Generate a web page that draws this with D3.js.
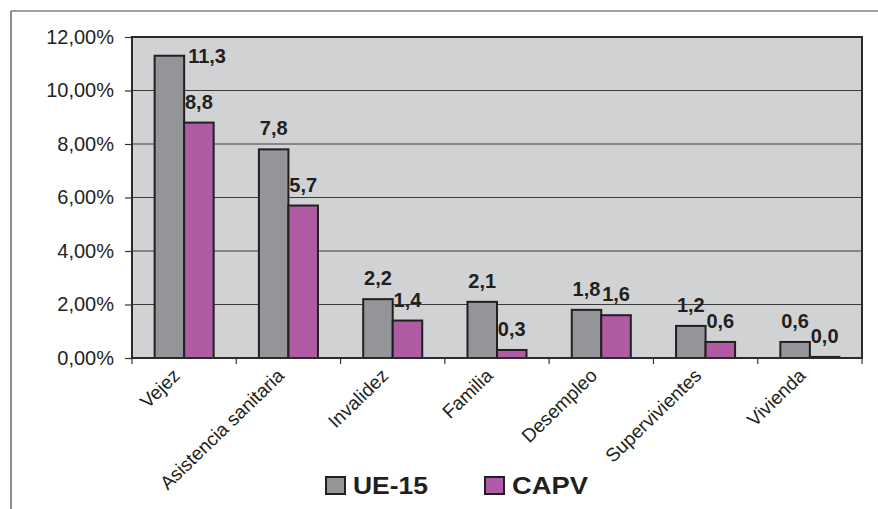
<!DOCTYPE html>
<html>
<head>
<meta charset="utf-8">
<script src="https://cdn.jsdelivr.net/npm/d3@7"></script>
<style>
  html, body { margin: 0; padding: 0; background: #fff; }
  svg { display: block; font-family: Arial, "Liberation Sans", Helvetica, sans-serif; }
</style>
</head>
<body>
<svg id="chart" width="878" height="509"></svg>
<script>
const categories = ["Vejez", "Asistencia sanitaria", "Invalidez", "Familia", "Desempleo", "Supervivientes", "Vivienda"];
const seriesNames = ["UE-15", "CAPV"];
const ue15 = [11.3, 7.8, 2.2, 2.1, 1.8, 1.2, 0.6];
const capv = [8.8, 5.7, 1.4, 0.3, 1.6, 0.6, 0.04];
const yTicks = [0, 2, 4, 6, 8, 10, 12];
const colors = ["#939598", "#b05ca4"];

const svg = d3.select("#chart");
const plot = { left: 132, right: 862, top: 37, bottom: 358 };

// outer frame (top and left edges visible)
svg.append("line").attr("x1", 11).attr("x2", 878).attr("y1", 11).attr("y2", 11)
  .attr("stroke", "#444").attr("stroke-width", 1.2);
svg.append("line").attr("x1", 11).attr("x2", 11).attr("y1", 11).attr("y2", 509)
  .attr("stroke", "#444").attr("stroke-width", 1.2);

const x0 = d3.scaleBand().domain(categories).range([plot.left, plot.right]).padding(0);
const groupW = x0.bandwidth() * 0.566;
const x1 = d3.scaleBand().domain(seriesNames).range([0, groupW]).padding(0);
const y = d3.scaleLinear().domain([0, 12]).range([plot.bottom, plot.top]);

// plot background
svg.append("rect").attr("x", plot.left).attr("y", plot.top)
  .attr("width", plot.right - plot.left).attr("height", plot.bottom - plot.top)
  .attr("fill", "#d1d2d4");

// gridlines
svg.append("g").selectAll("line").data(yTicks.filter(t => t > 0 && t < 12)).join("line")
  .attr("x1", plot.left).attr("x2", plot.right)
  .attr("y1", d => y(d)).attr("y2", d => y(d))
  .attr("stroke", "#3a3a3a").attr("stroke-width", 1.2);

// y axis
const fmtPct = v => d3.format(".2f")(v).replace(".", ",") + "%";
const yAxis = d3.axisLeft(y).tickValues(yTicks).tickFormat(fmtPct).tickSize(7).tickPadding(11);
const gy = svg.append("g").attr("transform", `translate(${plot.left},0)`).call(yAxis);
gy.select(".domain").remove();
gy.selectAll("line").attr("stroke", "#333").attr("stroke-width", 1.2);
gy.selectAll("text").attr("font-size", "20px").attr("fill", "#231f20")
  .attr("font-family", "Arial, 'Liberation Sans', sans-serif");

// x axis
const boundaries = categories.map(c => x0(c)).concat([plot.right]);
svg.append("g").selectAll("line").data(boundaries).join("line")
  .attr("x1", d => d).attr("x2", d => d)
  .attr("y1", plot.bottom).attr("y2", plot.bottom + 6)
  .attr("stroke", "#333").attr("stroke-width", 1.2);

svg.append("g").selectAll("text").data(categories).join("text")
  .attr("transform", d => `translate(${x0(d) + x0.bandwidth() / 2 - 3},${plot.bottom + 19}) rotate(-44)`)
  .attr("text-anchor", "end")
  .attr("font-size", "19px")
  .attr("fill", "#231f20")
  .text(d => d);

// bars
const seriesVals = [ue15, capv];
const barData = [];
categories.forEach((c, i) => {
  seriesNames.forEach((s, j) => {
    barData.push({ cat: c, series: s, j, value: seriesVals[j][i] });
  });
});
const gOff = (x0.bandwidth() - groupW) / 2;
svg.append("g").selectAll("rect").data(barData).join("rect")
  .attr("x", d => x0(d.cat) + gOff + x1(d.series))
  .attr("y", d => y(d.value))
  .attr("width", x1.bandwidth())
  .attr("height", d => y(0) - y(d.value))
  .attr("fill", d => colors[d.j])
  .attr("stroke", "#231f20").attr("stroke-width", 2);

// plot border
svg.append("rect").attr("x", plot.left).attr("y", plot.top)
  .attr("width", plot.right - plot.left).attr("height", plot.bottom - plot.top)
  .attr("fill", "none").attr("stroke", "#2b2b2b").attr("stroke-width", 2);

// value labels
const fmtVal = v => d3.format(".1f")(v).replace(".", ",");
svg.append("g").selectAll("text").data(barData).join("text")
  .each(function (d) {
    const bx = x0(d.cat) + gOff + x1(d.series);
    const top = y(d.value);
    const t = d3.select(this);
    if (top - 30 < plot.top) {
      t.attr("x", bx + x1.bandwidth() + 4).attr("y", top + 7).attr("text-anchor", "start");
    } else {
      t.attr("x", bx + x1.bandwidth() / 2).attr("y", top - 14).attr("text-anchor", "middle");
    }
  })
  .attr("font-size", "20px").attr("font-weight", "bold").attr("fill", "#231f20")
  .text(d => fmtVal(d.value));

// legend
const legendX = [326, 485];
const lg = svg.append("g").selectAll("g").data(seriesNames).join("g")
  .attr("transform", (d, i) => `translate(${legendX[i]},477)`);
lg.append("rect").attr("x", 0).attr("y", 0).attr("width", 19).attr("height", 17)
  .attr("fill", (d, i) => colors[i]).attr("stroke", "#231f20").attr("stroke-width", 2);
lg.append("text").attr("x", 27).attr("y", 17)
  .attr("font-size", "24px").attr("font-weight", "bold").attr("fill", "#231f20")
  .attr("textLength", (d, i) => i === 0 ? 75 : 76).attr("lengthAdjust", "spacingAndGlyphs")
  .text(d => d);
</script>
</body>
</html>
